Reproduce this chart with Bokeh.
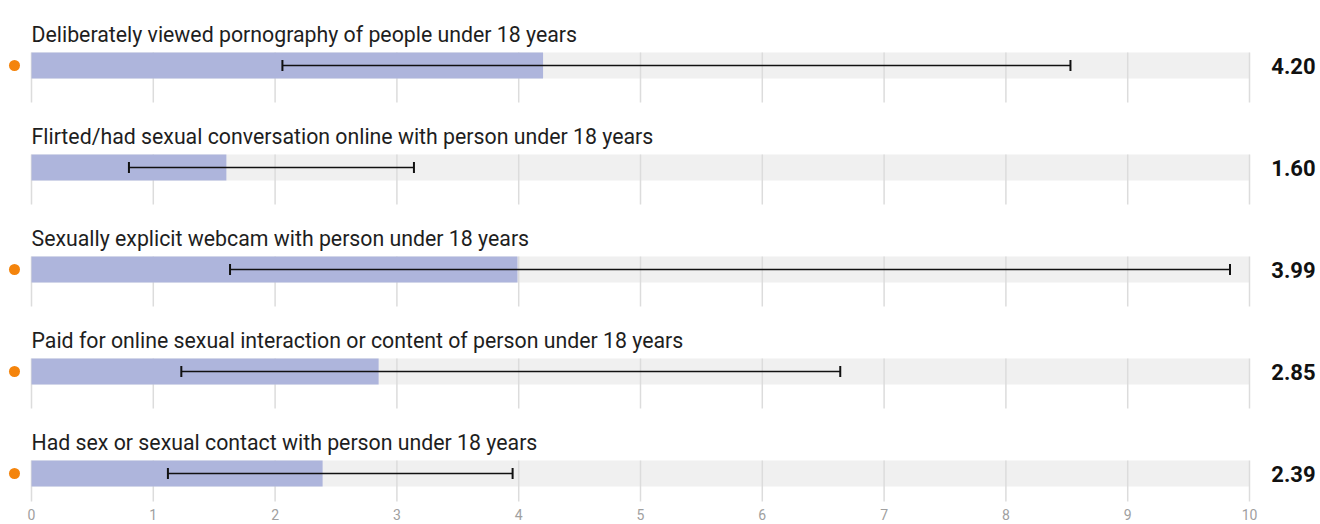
from bokeh.plotting import figure
from bokeh.models import Range1d
from bokeh.core.properties import value
from bokeh.embed import file_html
from bokeh.resources import INLINE

# ---- data ----
labels = [
    "Deliberately viewed pornography of people under 18 years",
    "Flirted/had sexual conversation online with person under 18 years",
    "Sexually explicit webcam with person under 18 years",
    "Paid for online sexual interaction or content of person under 18 years",
    "Had sex or sexual contact with person under 18 years",
]
values = [4.20, 1.60, 3.99, 2.85, 2.39]
lower = [2.06, 0.80, 1.63, 1.23, 1.12]
upper = [8.53, 3.14, 9.84, 6.64, 3.95]
flagged = [True, False, True, True, True]
ticks = [0, 1, 2, 3, 4, 5, 6, 7, 8, 9, 10]
tick_labels = [str(t) for t in ticks]
x_max = 10

# ---- layout ----
W, H = 1320, 524
px_x = 121.8          # pixels per unit on x
x0_px = 31            # frame pixel of x = 0
row_px = 102          # pixels per row
row0_px = 65          # frame pixel of first row centre
bar_px = 26
cap_px = 11

rows = list(range(len(labels)))
x_start = -x0_px / px_x
y_top = -row0_px / row_px
y_bot = (H - row0_px) / row_px
bh = bar_px / row_px

p = figure(width=W, height=H, output_backend="svg", toolbar_location=None,
           x_range=Range1d(x_start, x_start + W / px_x),
           y_range=Range1d(y_bot, y_top),
           min_border=0, outline_line_color=None)
p.xaxis.visible = False
p.yaxis.visible = False
p.xgrid.visible = False
p.ygrid.visible = False
p.background_fill_color = "white"
p.border_fill_color = "white"

FONT = value("Roboto")

# background bars
p.hbar(y=rows, left=0, right=x_max, height=bh, color="#F0F0F0", line_color=None)

# grid segments per row
gx, gy0, gy1 = [], [], []
for i in rows:
    extra = 24 if i < len(rows) - 1 else 15
    for t in ticks:
        gx.append(t)
        gy0.append(i - bh / 2)
        gy1.append(i + (bar_px / 2 + extra) / row_px)
p.segment(x0=gx, x1=gx, y0=gy0, y1=gy1, line_color="#DCDCDC", line_width=1.5)

# value bars
p.hbar(y=rows, left=0, right=values, height=bh, color="#AEB5DC", line_color=None)

# error bars
p.segment(x0=lower, x1=upper, y0=rows, y1=rows, line_color="#111111", line_width=1.5)
ch = cap_px / 2 / row_px
cx = lower + upper
cy = rows + rows
p.segment(x0=cx, x1=cx, y0=[y - ch for y in cy], y1=[y + ch for y in cy],
          line_color="#111111", line_width=2)

# flag dots
fy = [i for i, f in zip(rows, flagged) if f]
p.scatter(x=[-17 / px_x] * len(fy), y=fy, size=11, color="#F4840C", line_color=None)

# row labels
p.text(x=[0] * len(rows), y=rows, text=labels, y_offset=-31,
       text_font=FONT, text_font_size="21.3px", text_color="#1E1E1E",
       text_baseline="alphabetic", text_align="left")

# value labels
p.text(x=[x_max] * len(rows), y=rows, text=[f"{v:.2f}" for v in values], x_offset=66,
       text_font=FONT, text_font_size="22px", text_font_style="bold",
       text_color="#111111", text_baseline="middle", text_align="right")

# tick labels
p.text(x=ticks, y=[rows[-1]] * len(ticks), text=tick_labels, y_offset=41,
       text_font=FONT, text_font_size="14px", text_color="#A0A0A0",
       text_baseline="alphabetic", text_align="center")

open("out.html", "w").write(file_html(p, INLINE))
